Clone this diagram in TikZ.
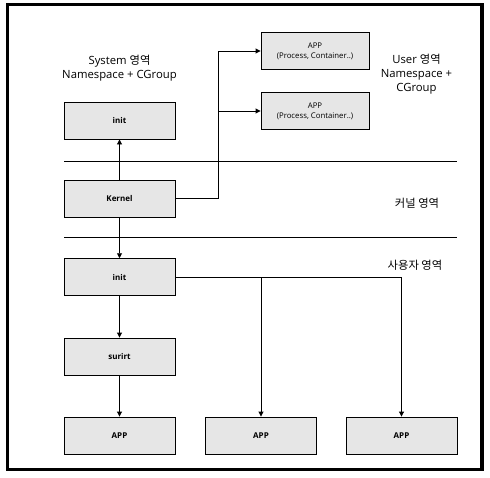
\documentclass[tikz,border=0pt]{standalone}
\usepackage{fontspec}
\setmainfont{Open Sans}
\newfontfamily\kr{Noto Sans CJK KR}
\usetikzlibrary{arrows.meta}
\definecolor{boxfill}{HTML}{E6E6E6}
\tikzset{
  box/.style={draw=black, line width=0.9pt, fill=boxfill, minimum width=111pt, minimum height=37pt, inner sep=0pt, font=\fontsize{8}{10}\selectfont\bfseries, align=center},
  topbox/.style={box, minimum width=108pt, font=\fontsize{7.8}{10}\selectfont},
  conn/.style={draw=black, line width=0.9pt},
  arr/.style={conn, -{Triangle[length=5pt,width=5pt]}},
  sep/.style={draw=black, line width=0.9pt},
  lbl/.style={font=\fontsize{11.3}{14}\selectfont, align=center, inner sep=0pt},
}
\begin{document}
\begin{tikzpicture}[x=1pt,y=-1pt]
\useasboundingbox (0,0) rectangle (490,477);
\draw[line width=3.5pt] (7.5,4.5) rectangle (482,469.5);
% separators
\coordinate (s1a) at (64,161.7); \coordinate (s1b) at (457,161.7);
\coordinate (s2a) at (64,237.3); \coordinate (s2b) at (457,237.3);
\draw[sep] (s1a) -- (s1b);
\draw[sep] (s2a) -- (s2b);
% boxes
\node[box] (sinit) at (119.5,120.5) {init};
\node[box] (kernel) at (119.5,198.8) {Kernel};
\node[box] (uinit) at (119.5,277.2) {init};
\node[box] (surirt) at (119.5,356.5) {surirt};
\node[box] (app1) at (119.5,435.5) {APP};
\node[box] (app2) at (261,435.5) {APP};
\node[box] (app3) at (401.5,435.5) {APP};
\node[topbox] (tapp1) at (315,51) {APP\\(Process, Container..)};
\node[topbox] (tapp2) at (315,111) {APP\\(Process, Container..)};
% labels
\node[lbl] (lsys) at (119.5,68.5) {System {\kr 영역}\\Namespace + CGroup};
\node[lbl] (lusr) at (416.5,74) {User {\kr 영역}\\Namespace +\\CGroup};
\node[lbl] (lker) at (417,203) {\kr 커널 영역};
\node[lbl] (lus) at (415,265) {\kr 사용자 영역};
% connectors
\coordinate (split) at (218,198.8);
\draw[arr] (kernel.north) -- (sinit.south);
\draw[arr] (kernel.south) -- (uinit.north);
\draw[conn] (kernel.east) -- (split);
\draw[arr] (split) |- (tapp1.west);
\draw[arr] (split) |- (tapp2.west);
\draw[arr] (uinit.east) -| (app3.north);
\draw[arr] (app2.north |- uinit.east) -- (app2.north);
\draw[arr] (uinit.south) -- (surirt.north);
\draw[arr] (surirt.south) -- (app1.north);
\end{tikzpicture}
\end{document}
